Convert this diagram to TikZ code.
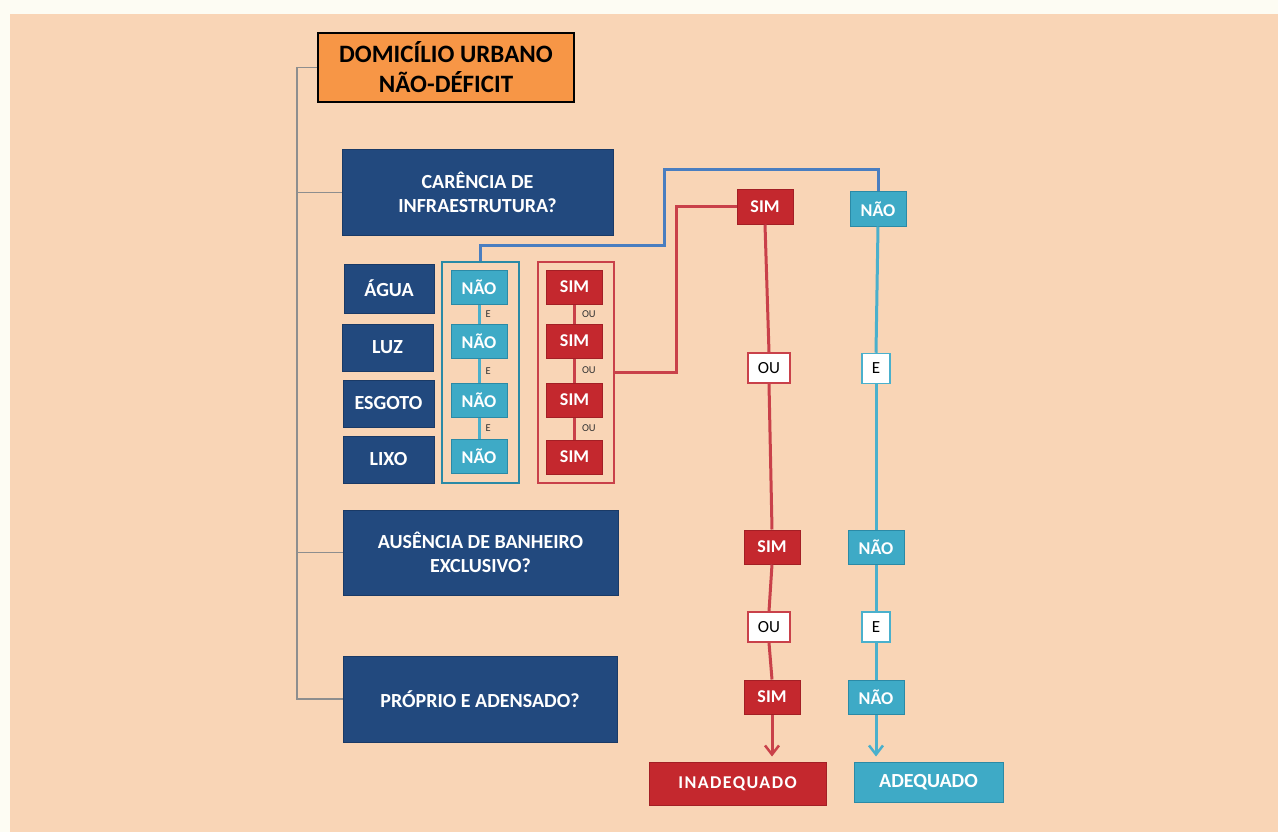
\documentclass[tikz,border=0pt]{standalone}
\usepackage{fontspec}
\setmainfont{Carlito}
\usetikzlibrary{arrows.meta}
\definecolor{peach}{HTML}{F9D5B6}
\definecolor{topwhite}{HTML}{FDFCF3}
\definecolor{dblue}{HTML}{22497E}
\definecolor{dbluebd}{HTML}{1A3A66}
\definecolor{tealbox}{HTML}{3EAAC6}
\definecolor{tealbd}{HTML}{2B8AA6}
\definecolor{tealline}{HTML}{4AB0CC}
\definecolor{redbox}{HTML}{C4282E}
\definecolor{redbd}{HTML}{A31F25}
\definecolor{redline}{HTML}{C9414A}
\definecolor{blueline}{HTML}{4A7EC0}
\definecolor{orangebox}{HTML}{F79646}
\definecolor{graytree}{HTML}{8E8E8E}
\tikzset{
  qbox/.style={fill=dblue, draw=dbluebd, line width=1pt, text=white, font=\fontsize{20}{24}\selectfont\bfseries, align=center, inner sep=0pt},
  lbox/.style={qbox, font=\fontsize{20}{24}\selectfont\bfseries},
  naobox/.style={fill=tealbox, draw=tealbd, line width=1pt, text=white, font=\fontsize{18}{20}\selectfont\bfseries, minimum width=56pt, minimum height=34pt, inner sep=0pt},
  simbox/.style={fill=redbox, draw=redbd, line width=1pt, text=white, font=\fontsize{18}{20}\selectfont\bfseries, minimum width=56pt, minimum height=34pt, inner sep=0pt},
  oubox/.style={fill=white, draw=redline, line width=1.5pt, text=black, font=\fontsize{17}{19}\selectfont, minimum width=42pt, minimum height=30pt, inner sep=0pt},
  ebox/.style={fill=white, draw=tealline, line width=1.5pt, text=black, font=\fontsize{17}{19}\selectfont, minimum width=28pt, minimum height=30pt, inner sep=0pt},
  smalllbl/.style={font=\fontsize{10.5}{12}\selectfont, text=black!80, inner sep=0pt},
  redl/.style={draw=redline, line width=3pt},
  teall/.style={draw=tealline, line width=3pt},
  bluel/.style={draw=blueline, line width=3pt},
  treel/.style={draw=graytree, line width=1.2pt},
  tip/.style={-{Straight Barb[length=9pt,width=14pt,line width=2.5pt]}, shorten >=5pt}
}
\begin{document}
\begin{tikzpicture}[x=1pt,y=-1pt]
\useasboundingbox (0,0) rectangle (1278,832);
\fill[topwhite] (0,0) rectangle (1278,832);
\fill[peach] (10,14) rectangle (1278,832);

% title
\node[fill=orangebox, draw=black, line width=2pt, minimum width=256pt, minimum height=69pt, align=center, font=\fontsize{25}{30}\selectfont\bfseries, inner sep=0pt] (title) at (446,67.5) {DOMICÍLIO URBANO\\NÃO-DÉFICIT};

% question boxes
\node[qbox, minimum width=271pt, minimum height=85pt] (car) at (477.5,192.5) {CARÊNCIA DE\\INFRAESTRUTURA?};
\node[qbox, minimum width=275pt, minimum height=85pt] (aus) at (480.5,552.5) {AUSÊNCIA DE BANHEIRO\\EXCLUSIVO?};
\node[qbox, minimum width=274pt, minimum height=86pt] (prop) at (480,699) {PRÓPRIO E ADENSADO?};

% infra labels
\node[lbox, minimum width=90pt, minimum height=49pt] (agua) at (389,288.5) {ÁGUA};
\node[lbox, minimum width=91pt, minimum height=47pt] (luz) at (387.5,347.5) {LUZ};
\node[lbox, minimum width=91pt, minimum height=47pt] (esg) at (388.5,403.5) {ESGOTO};
\node[lbox, minimum width=91pt, minimum height=47pt] (lixo) at (388.5,459.5) {LIXO};

% containers
\node[draw=tealbd, line width=2pt, minimum width=77pt, minimum height=221pt, inner sep=0pt] (naoc) at (480.5,372.5) {};
\node[draw=redline, line width=2pt, minimum width=76pt, minimum height=221pt, inner sep=0pt] (simc) at (576,372.5) {};

% NAO column
\node[naobox] (n1) at (479,287.5) {NÃO};
\node[naobox] (n2) at (479,341.5) {NÃO};
\node[naobox] (n3) at (479,400.5) {NÃO};
\node[naobox] (n4) at (479,456.5) {NÃO};
\draw[teall] (n1) -- (n2) node[midway, right=5pt, smalllbl] {E};
\draw[teall] (n2) -- (n3) node[midway, right=5pt, smalllbl] {E};
\draw[teall] (n3) -- (n4) node[midway, right=5pt, smalllbl] {E};

% SIM column
\node[simbox] (s1) at (574.5,287) {SIM};
\node[simbox] (s2) at (574.5,341) {SIM};
\node[simbox] (s3) at (574.5,400) {SIM};
\node[simbox] (s4) at (574.5,457) {SIM};
\draw[redl] (s1) -- (s2) node[midway, right=6pt, smalllbl] {OU};
\draw[redl] (s2) -- (s3) node[midway, right=6pt, smalllbl] {OU};
\draw[redl] (s3) -- (s4) node[midway, right=6pt, smalllbl] {OU};

% right columns
\node[simbox] (simt) at (765,207) {SIM};
\node[naobox] (naot) at (878,209) {NÃO};
\node[oubox] (ou1) at (769,368) {OU};
\node[ebox] (e1) at (876,368.5) {E};
\node[simbox] (sim2) at (772,547) {SIM};
\node[naobox] (nao2) at (876,547) {NÃO};
\node[oubox] (ou2) at (769,627) {OU};
\node[ebox] (e2) at (876,627) {E};
\node[simbox] (sim3) at (772,697) {SIM};
\node[naobox] (nao3) at (876,697) {NÃO};

\node[fill=redbox, draw=redbd, line width=1pt, text=white, font=\fontsize{18}{22}\selectfont\bfseries\addfontfeature{LetterSpace=8}, minimum width=177pt, minimum height=43pt, inner sep=0pt] (inad) at (737.5,783.5) {INADEQUADO};
\node[fill=tealbox, draw=tealbd, line width=1pt, text=white, font=\fontsize{20}{22}\selectfont\bfseries, minimum width=149pt, minimum height=40pt, inner sep=0pt] (adeq) at (928.5,782) {ADEQUADO};

% connectors
\coordinate (b1) at (664,245);
\coordinate (b2) at (664,170);
\draw[bluel] (naoc.north) -- (naoc.north |- b1) -- (b1) -- (b2) -- (b2 -| naot) -- (naot.north);
\coordinate (r1) at (676,207);
\draw[redl] (simc.east) -| (r1) -- (simt.west);

\draw[redl] (simt.south) -- (ou1.north);
\draw[redl] (ou1.south) -- (sim2.north);
\draw[redl] (sim2.south) -- (ou2.north);
\draw[redl] (ou2.south) -- (sim3.north);
\draw[redl, tip] (sim3.south) -- (sim3.south |- inad.north);

\draw[teall] (naot.south) -- (e1.north);
\draw[teall] (e1.south) -- (nao2.north);
\draw[teall] (nao2.south) -- (e2.north);
\draw[teall] (e2.south) -- (nao3.north);
\draw[teall, tip] (nao3.south) -- (nao3.south |- adeq.north);

% tree
\coordinate (g0) at (297,68);
\draw[treel] (title.west) -- (title.west -| g0) -- (g0 |- prop.west) -- (prop.west);
\draw[treel] (g0 |- car.west) -- (car.west);
\draw[treel] (g0 |- aus.west) -- (aus.west);
\end{tikzpicture}
\end{document}
